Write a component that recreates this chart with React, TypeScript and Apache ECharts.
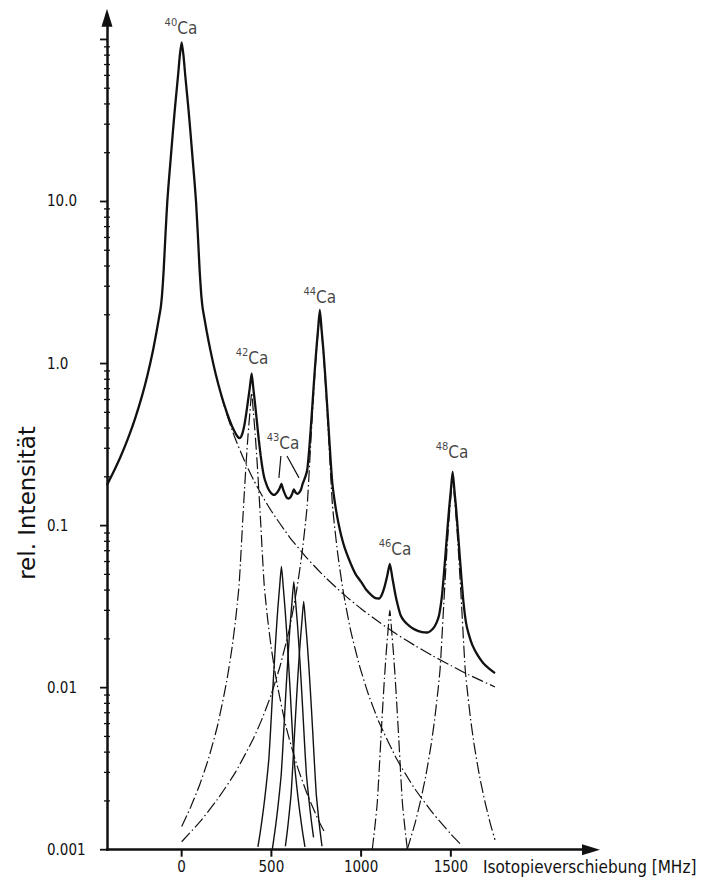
import React, { useEffect, useRef } from "react";
import * as echarts from "echarts";

const INK = "#111";
const FONT = '"DejaVu Sans Condensed", "Liberation Sans Narrow", "DejaVu Sans", sans-serif';
const TITLE_FONT = '"DejaVu Sans", "Liberation Sans", sans-serif';

const X_MIN = -416;
const X_MAX = 2281;
const Y_MIN = 0.001;
const Y_MAX = 136;

const xTickValues = [0, 500, 1000, 1500];
const yTickExponents = [-3, -2, -1, 0, 1];
const yTickLabels = ["0.001", "0.01", "0.1", "1.0", "10.0"];
const yMajorTicks = [0.001, 0.01, 0.1, 1, 10, 100];
const yMinorTicks = [
  0.002, 0.003, 0.004, 0.005, 0.006, 0.007, 0.008, 0.009,
  0.02, 0.03, 0.04, 0.05, 0.06, 0.07, 0.08, 0.09,
  0.2, 0.3, 0.4, 0.5, 0.6, 0.7, 0.8, 0.9,
  2, 3, 4, 5, 6, 7, 8, 9,
  20, 30, 40, 50, 60, 70, 80, 90,
];

// total measured spectrum (MHz, rel. intensity)
const totalCurve: [number, number][] = [
  [-416, 0.178], [-380, 0.214], [-340, 0.267], [-300, 0.343], [-260, 0.456], [-220, 0.636],
  [-190, 0.852], [-160, 1.2], [-140, 1.57], [-125, 1.95], [-117, 2.2], [-110, 2.6], [-105, 3.1],
  [-100, 3.8], [-90, 6.3], [-80, 10], [-70, 14], [-60, 19], [-50, 26], [-40, 35], [-30, 46],
  [-20, 60], [-10, 80], [0, 96],
  [10, 80], [20, 60], [30, 46], [40, 35], [50, 26], [60, 19], [70, 14], [80, 10], [90, 6.3],
  [100, 3.8], [105, 3.1], [110, 2.6], [117, 2.2], [125, 1.95], [140, 1.57], [160, 1.21],
  [190, 0.858], [220, 0.644],
  [250, 0.505], [280, 0.412], [300, 0.371], [310, 0.356], [320, 0.347], [330, 0.352], [340, 0.375],
  [350, 0.42], [360, 0.493], [370, 0.592], [380, 0.713], [390, 0.868], [400, 0.693], [410, 0.552],
  [420, 0.431], [430, 0.338], [440, 0.272], [450, 0.227], [460, 0.198], [470, 0.183], [480, 0.171],
  [490, 0.163], [500, 0.158], [510, 0.155], [520, 0.155], [530, 0.159], [540, 0.165], [548, 0.172],
  [556, 0.181], [565, 0.168], [575, 0.157], [585, 0.149], [595, 0.147], [605, 0.149], [615, 0.156],
  [625, 0.167], [635, 0.16], [645, 0.157], [655, 0.16], [665, 0.167], [675, 0.182], [690, 0.201],
  [700, 0.222], [710, 0.288], [720, 0.405], [730, 0.587], [740, 0.853], [750, 1.2], [760, 1.62],
  [770, 2.14], [780, 1.61], [790, 1.2], [800, 0.841], [810, 0.569], [820, 0.381], [830, 0.255],
  [840, 0.181], [850, 0.148], [860, 0.125], [875, 0.102], [890, 0.086], [910, 0.072], [940, 0.059],
  [970, 0.05], [1000, 0.045], [1030, 0.04], [1060, 0.037], [1080, 0.0357], [1100, 0.0355],
  [1115, 0.0373], [1130, 0.0417], [1145, 0.0487], [1160, 0.058], [1175, 0.047], [1190, 0.038],
  [1205, 0.032], [1220, 0.028], [1240, 0.0258], [1270, 0.024], [1300, 0.0228], [1340, 0.022],
  [1370, 0.0219], [1400, 0.0231], [1420, 0.0251], [1435, 0.0282], [1450, 0.0364], [1460, 0.0482],
  [1470, 0.066], [1480, 0.092], [1490, 0.126], [1500, 0.165], [1510, 0.215], [1520, 0.165],
  [1530, 0.125], [1540, 0.09], [1550, 0.064], [1560, 0.046], [1570, 0.034], [1585, 0.025],
  [1600, 0.0213], [1620, 0.0183], [1650, 0.0158], [1680, 0.0142], [1710, 0.0132], [1746, 0.0123],
];

// single-isotope components (dash-dot)
const ca40Wing: [number, number][] = [
  [220, 0.635], [250, 0.492], [280, 0.392], [300, 0.341], [350, 0.251], [400, 0.192], [450, 0.152],
  [500, 0.123], [600, 0.0853], [700, 0.0627], [800, 0.048], [900, 0.0379], [1000, 0.0307],
  [1100, 0.0254], [1200, 0.0213], [1300, 0.0182], [1400, 0.0157], [1500, 0.0137], [1600, 0.012],
  [1746, 0.0101],
];
const ca42: [number, number][] = [
  [0, 0.00139], [50, 0.00183], [100, 0.00251], [150, 0.00366], [200, 0.00584], [250, 0.0108],
  [280, 0.0174], [300, 0.026], [310, 0.033], [320, 0.0429], [330, 0.066], [340, 0.106], [350, 0.165],
  [360, 0.251], [370, 0.363], [380, 0.495], [390, 0.66], [400, 0.495], [410, 0.363], [420, 0.251],
  [430, 0.165], [440, 0.106], [450, 0.066], [460, 0.0429], [470, 0.033], [480, 0.026], [500, 0.0174],
  [530, 0.0108], [580, 0.00584], [640, 0.00338], [700, 0.0022], [760, 0.00154], [800, 0.00126],
];
const ca44: [number, number][] = [
  [0, 0.00112], [100, 0.00148], [200, 0.00205], [300, 0.00301], [400, 0.00486], [450, 0.0065],
  [500, 0.00914], [550, 0.0138], [600, 0.023], [640, 0.0394], [670, 0.0666], [690, 0.104],
  [700, 0.135], [710, 0.208], [720, 0.333], [730, 0.52], [740, 0.79], [750, 1.14], [760, 1.56],
  [770, 2.08], [780, 1.56], [790, 1.14], [800, 0.79], [810, 0.52], [820, 0.333], [830, 0.208],
  [840, 0.135], [850, 0.104], [870, 0.0666], [900, 0.0394], [940, 0.023], [990, 0.0138],
  [1040, 0.00914], [1100, 0.00612], [1200, 0.0036], [1300, 0.00237], [1400, 0.00168],
  [1500, 0.00125], [1555, 0.00108],
];
const ca46: [number, number][] = [
  [1062, 0.001], [1070, 0.00119], [1080, 0.0015], [1090, 0.00195], [1100, 0.003], [1110, 0.0048],
  [1120, 0.0075], [1130, 0.0114], [1140, 0.0165], [1150, 0.0225], [1160, 0.03], [1170, 0.0225],
  [1180, 0.0165], [1190, 0.0114], [1200, 0.0075], [1210, 0.0048], [1220, 0.003], [1230, 0.00195],
  [1240, 0.0015], [1250, 0.00119], [1258, 0.001],
];
const ca48: [number, number][] = [
  [1257, 0.001], [1300, 0.00145], [1330, 0.00198], [1360, 0.00284], [1390, 0.00444], [1410, 0.0064],
  [1430, 0.01], [1440, 0.013], [1450, 0.02], [1460, 0.032], [1470, 0.05], [1480, 0.076], [1490, 0.11],
  [1500, 0.15], [1510, 0.2], [1520, 0.15], [1530, 0.11], [1540, 0.076], [1550, 0.05], [1560, 0.032],
  [1570, 0.02], [1580, 0.013], [1590, 0.01], [1610, 0.0064], [1630, 0.00444], [1660, 0.00284],
  [1690, 0.00198], [1720, 0.00145], [1746, 0.00115],
];

// 43Ca hyperfine components (solid)
const ca43a: [number, number][] = [
  [425, 0.00104], [436, 0.00124], [446, 0.00148], [456, 0.00179], [466, 0.00221], [476, 0.0028],
  [486, 0.00364], [496, 0.0056], [506, 0.00896], [516, 0.014], [526, 0.0213], [536, 0.0308],
  [546, 0.042], [556, 0.056], [566, 0.042], [576, 0.0308], [586, 0.0213], [596, 0.014], [606, 0.00896],
  [616, 0.0056], [626, 0.00364], [636, 0.0028], [646, 0.00221], [656, 0.00179], [666, 0.00148],
  [676, 0.00124], [687, 0.00104],
];
const ca43b: [number, number][] = [
  [505, 0.001], [525, 0.00144], [535, 0.00178], [545, 0.00225], [555, 0.00293], [565, 0.0045],
  [575, 0.0072], [585, 0.0113], [595, 0.0171], [605, 0.0248], [615, 0.0338], [625, 0.045],
  [635, 0.0338], [645, 0.0248], [655, 0.0171], [665, 0.0113], [675, 0.0072], [685, 0.0045],
  [695, 0.00293], [705, 0.00225], [715, 0.00178], [725, 0.00144], [735, 0.00119],
];
const ca43c: [number, number][] = [
  [578, 0.00105], [590, 0.00134], [600, 0.0017], [610, 0.00221], [620, 0.0034], [630, 0.00544],
  [640, 0.0085], [650, 0.0129], [660, 0.0187], [670, 0.0255], [680, 0.034], [690, 0.0255],
  [700, 0.0187], [710, 0.0129], [720, 0.0085], [730, 0.00544], [740, 0.0034], [750, 0.00221],
  [760, 0.0017], [770, 0.00134], [782, 0.00105],
];

// isotope labels
const isotopeMass = ["40", "42", "43", "44", "46", "48"];
const labelX = [-4, 392, 565, 770, 1189, 1507];
const labelY = [120, 1.1, 0.33, 2.62, 0.073, 0.29];

// 43Ca pointer strokes
const leader1: [number, number][] = [[553, 0.269], [542, 0.197]];
const leader2: [number, number][] = [[587, 0.269], [654, 0.197]];

export default function App() {
  const ref = useRef<HTMLDivElement>(null);
  useEffect(() => {
    document.body.style.margin = "0";
    const chart = echarts.init(ref.current!, undefined, { renderer: "svg" });
    const dashDot = [12, 3, 1.5, 3];
    const comp = (data: [number, number][]) => ({
      type: "line",
      data,
      symbol: "none",
      showSymbol: false,
      smooth: 0.2,
      silent: true,
      z: 2,
      lineStyle: { color: INK, width: 1.2, type: dashDot, cap: "butt" },
    });
    const solidThin = (data: [number, number][], w = 1.4) => ({
      type: "line",
      data,
      symbol: "none",
      showSymbol: false,
      smooth: 0.2,
      silent: true,
      z: 3,
      lineStyle: { color: INK, width: w, type: "solid" },
    });

    const option: any = {
      animation: false,
      backgroundColor: "#fff",
      grid: { left: 107, right: 116, top: 17.8, bottom: 39.3, containLabel: false, outerBoundsMode: "none" },
      xAxis: {
        type: "value",
        min: X_MIN,
        max: X_MAX,
        splitLine: { show: false },
        axisLine: {
          show: true,
          onZero: false,
          symbol: ["none", "triangle"],
          symbolSize: [11, 18],
          lineStyle: { color: INK, width: 2.5 },
        },
        axisTick: { show: false },
        axisLabel: {
          show: true,
          customValues: xTickValues,
          margin: 10,
          color: INK,
          fontSize: 15,
          fontFamily: FONT,
          formatter: (v: number) => (xTickValues.indexOf(v) >= 0 ? String(v) : ""),
        },
      },
      yAxis: {
        type: "log",
        logBase: 10,
        min: Y_MIN,
        max: Y_MAX,
        splitLine: { show: false },
        axisLine: {
          show: true,
          onZero: false,
          symbol: ["none", "triangle"],
          symbolSize: [11, 18],
          lineStyle: { color: INK, width: 2.5 },
        },
        axisTick: { show: false },
        minorTick: { show: false },
        axisLabel: {
          show: true,
          align: "left",
          margin: 60,
          color: INK,
          fontSize: 15,
          fontFamily: FONT,
          showMaxLabel: false,
          formatter: (v: number) => {
            const lg = Math.log10(v);
            const k = Math.round(lg);
            if (Math.abs(lg - k) > 1e-6) return "";
            const i = yTickExponents.indexOf(k);
            return i >= 0 ? yTickLabels[i] : "";
          },
        },
      },
      graphic: [
        {
          type: "text",
          x: 27,
          y: 503,
          rotation: Math.PI / 2,
          style: {
            text: "rel. Intensität",
            font: `23px ${TITLE_FONT}`,
            fill: INK,
            align: "center",
            verticalAlign: "middle",
            textAlign: "center",
            textVerticalAlign: "middle",
          },
        },
        {
          type: "text",
          x: 483,
          y: 867,
          style: {
            text: "Isotopieverschiebung [MHz]",
            font: `17px ${FONT}`,
            fill: INK,
            align: "left",
            verticalAlign: "middle",
            textAlign: "left",
            textVerticalAlign: "middle",
          },
        },
      ],
      series: [
        comp(ca40Wing),
        comp(ca42),
        comp(ca44),
        comp(ca46),
        comp(ca48),
        solidThin(ca43a),
        solidThin(ca43b),
        solidThin(ca43c),
        solidThin(leader1, 1.2),
        solidThin(leader2, 1.2),
        {
          type: "line",
          data: totalCurve,
          symbol: "none",
          showSymbol: false,
          smooth: 0.2,
          silent: true,
          z: 5,
          lineStyle: { color: INK, width: 2.3, type: "solid" },
        },
        {
          type: "scatter",
          symbolSize: 1,
          silent: true,
          z: 6,
          itemStyle: { color: "rgba(0,0,0,0)" },
          label: {
            show: true,
            position: "inside",
            color: INK,
            rich: {
              s: { fontSize: 11, fontFamily: FONT, color: INK, verticalAlign: "top", lineHeight: 20 },
              c: { fontSize: 17, fontFamily: FONT, color: INK, verticalAlign: "bottom", lineHeight: 20 },
            },
          },
          data: isotopeMass.map((m, i) => ({
            value: [labelX[i], labelY[i]],
            label: { formatter: `{s|${m}}{c|Ca}` },
          })),
        },
        {
          type: "custom",
          silent: true,
          clip: false,
          z: 7,
          encode: { x: 0, y: 1 },
          data: [
            ...yMajorTicks.map((v) => [X_MIN, v, 1]),
            ...yMinorTicks.map((v) => [X_MIN, v, 0]),
          ],
          renderItem: (_p: any, api: any) => {
            const v = api.value(1);
            const major = api.value(2) === 1;
            const pt = api.coord([X_MIN, v]);
            return {
              type: "line",
              shape: { x1: pt[0] - (major ? 7 : 3), y1: pt[1], x2: pt[0] + (major ? 1 : 3), y2: pt[1] },
              style: { stroke: INK, lineWidth: major ? 1.8 : 1.3 },
            };
          },
        },
        {
          type: "custom",
          silent: true,
          clip: false,
          z: 7,
          encode: { x: 0, y: 1 },
          data: xTickValues.map((v) => [v, Y_MIN]),
          renderItem: (_p: any, api: any) => {
            const pt = api.coord([api.value(0), Y_MIN]);
            return {
              type: "line",
              shape: { x1: pt[0], y1: pt[1], x2: pt[0], y2: pt[1] + 7 },
              style: { stroke: INK, lineWidth: 2 },
            };
          },
        },
      ],
    };
    chart.setOption(option);
    return () => chart.dispose();
  }, []);
  return <div ref={ref} style={{ width: 707, height: 889 }} />;
}
